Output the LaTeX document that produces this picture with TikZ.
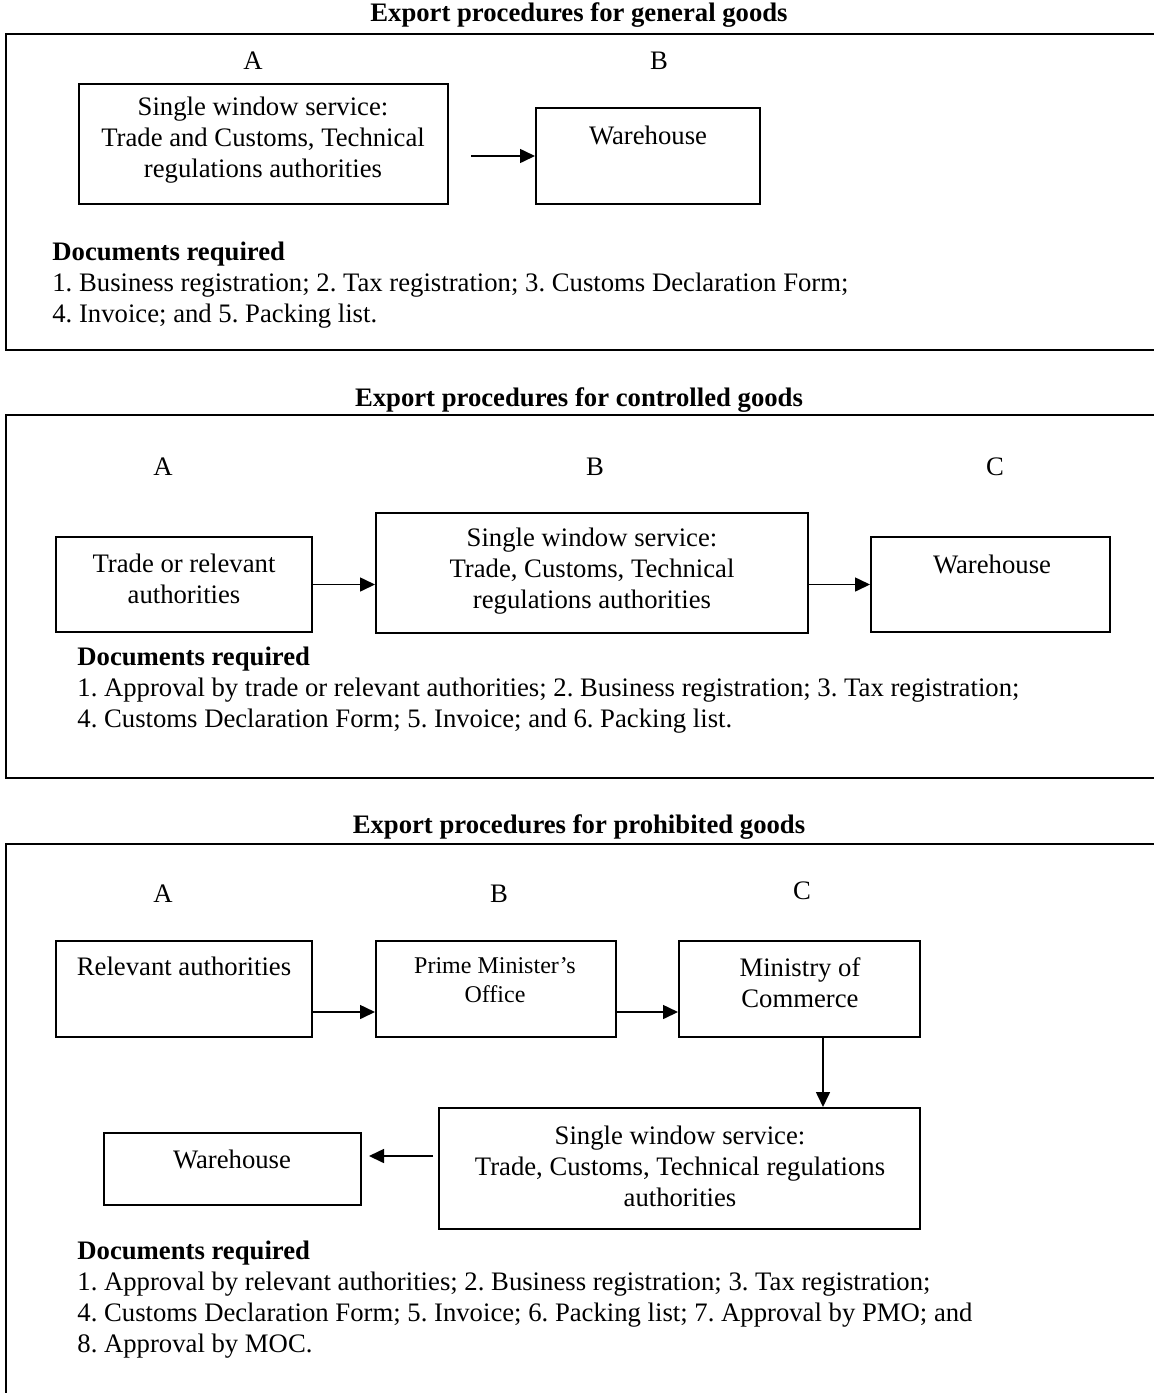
\documentclass[tikz,border=0pt]{standalone}
\usepackage{fontspec}
\setmainfont{Liberation Serif}
\frenchspacing
\usetikzlibrary{arrows.meta}
\tikzstyle{box}=[draw=black,line width=1pt,inner sep=0pt]
\tikzstyle{txt}=[inner sep=0pt,align=center,font=\fontsize{13.35}{15.5}\selectfont]
\tikzstyle{small}=[inner sep=0pt,align=center,font=\fontsize{12}{14.5}\selectfont]
\tikzstyle{ttl}=[inner sep=0pt,font=\fontsize{13.35}{15.5}\selectfont\bfseries]
\tikzstyle{docs}=[inner sep=0pt,align=left,anchor=west,font=\fontsize{13.35}{15.5}\selectfont]
\tikzstyle{frame}=[line width=1pt]
\tikzstyle{arr}=[line width=0.8pt,-{Triangle[length=7.5pt,width=7pt]}]
\tikzstyle{none}=[]

\begin{document}
\begin{tikzpicture}[x=0.5pt,y=-0.5pt]
    \useasboundingbox (0,0) rectangle (1154,1393);
    % general goods
    \node [style=ttl] (t1) at (579, 15) {Export procedures for general goods};
    \draw [style=frame] (1154, 33.5) -- (6, 33.5) -- (6, 350) -- (1154, 350);
    \node [style=txt] (a1) at (253, 61) {A};
    \node [style=txt] (b1) at (659, 61) {B};
    \node [style=box,minimum width=184.5pt,minimum height=60.25pt] (0) at (263.5, 143.75) {};
    \node [style=box,minimum width=112pt,minimum height=48pt] (1) at (648, 156) {};
    \node [style=txt] (0t) at (263, 140.5) {Single window service:\\Trade and Customs, Technical\\regulations authorities};
    \node [style=txt] (1t) at (648, 135) {Warehouse};
    \coordinate (c0) at (471, 156);
    \draw [style=arr] (c0) to (1);
    \node [style=docs] (d1) at (52, 285.5) {\textbf{Documents required}\\1. Business registration; 2. Tax registration; 3. Customs Declaration Form;\\4. Invoice; and 5. Packing list.};

    % controlled goods
    \node [style=ttl] (t2) at (579, 400) {Export procedures for controlled goods};
    \draw [style=frame] (1154, 415) -- (6, 415) -- (6, 778) -- (1154, 778);
    \node [style=txt] (a2) at (163, 467) {A};
    \node [style=txt] (b2) at (595, 467) {B};
    \node [style=txt] (c2) at (995, 467) {C};
    \node [style=box,minimum width=128pt,minimum height=47.5pt] (2) at (184, 584.5) {};
    \node [style=box,minimum width=216pt,minimum height=60pt] (3) at (592, 573) {};
    \node [style=box,minimum width=119.5pt,minimum height=47.5pt] (4) at (990.5, 584.5) {};
    \node [style=txt] (2t) at (184, 579) {Trade or relevant\\authorities};
    \node [style=txt] (3t) at (592, 571) {Single window service:\\Trade, Customs, Technical\\regulations authorities};
    \node [style=txt] (4t) at (992, 564) {Warehouse};
    \draw [style=arr] (2.east) to (2.east -| 3.west);
    \draw [style=arr] (2.east -| 3.east) to (4.west);
    \node [style=docs] (d2) at (77, 690) {\textbf{Documents required}\\1. Approval by trade or relevant authorities; 2. Business registration; 3. Tax registration;\\4. Customs Declaration Form; 5. Invoice; and 6. Packing list.};

    % prohibited goods
    \node [style=ttl] (t3) at (579, 827) {Export procedures for prohibited goods};
    \draw [style=frame] (1154, 843.5) -- (6, 843.5) -- (6, 1400);
    \node [style=txt] (a3) at (163, 894) {A};
    \node [style=txt] (b3) at (499, 894) {B};
    \node [style=txt] (c3) at (802, 891) {C};
    \node [style=box,minimum width=128pt,minimum height=48pt] (5) at (184, 989) {};
    \node [style=box,minimum width=120pt,minimum height=48pt] (6) at (496, 989) {};
    \node [style=box,minimum width=120.5pt,minimum height=48pt] (7) at (799.5, 989) {};
    \node [style=box,minimum width=240.5pt,minimum height=60.5pt] (8) at (679.5, 1168.5) {};
    \node [style=box,minimum width=128.5pt,minimum height=36pt] (9) at (232.5, 1169) {};
    \node [style=txt] (5t) at (184, 966) {Relevant authorities};
    \node [style=small] (6t) at (495, 980) {Prime Minister’s\\Office};
    \node [style=txt] (7t) at (800, 982.5) {Ministry of\\Commerce};
    \node [style=txt] (8t) at (680, 1166) {Single window service:\\Trade, Customs, Technical regulations\\authorities};
    \node [style=txt] (9t) at (232, 1159) {Warehouse};
    \coordinate (r1) at (0, 1012);
    \coordinate (r2) at (823, 0);
    \coordinate (c4) at (433, 1156);
    \draw [style=arr] (5.east |- r1) to (6.west |- r1);
    \draw [style=arr] (6.east |- r1) to (7.west |- r1);
    \draw [style=arr] (7.south -| r2) to (8.north -| r2);
    \draw [style=arr] (c4) to ([xshift=3.5pt]9.east |- c4);
    \node [style=docs] (d3) at (77, 1300) {\textbf{Documents required}\\1. Approval by relevant authorities; 2. Business registration; 3. Tax registration;\\4. Customs Declaration Form; 5. Invoice; 6. Packing list; 7. Approval by PMO; and\\8. Approval by MOC.};
\end{tikzpicture}
\end{document}
